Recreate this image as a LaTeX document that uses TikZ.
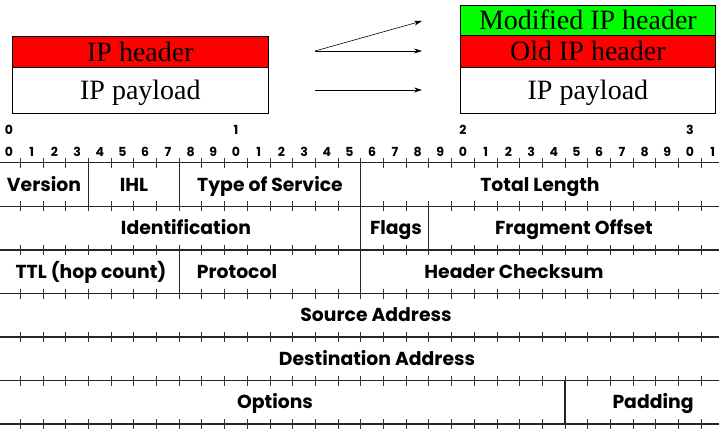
\documentclass[tikz,border=0pt]{standalone}
\usepackage{fontspec}
\setmainfont{Liberation Serif}
\newfontfamily\fieldfont{Poppins}
\usetikzlibrary{arrows.meta}

\begin{document}
\begin{tikzpicture}[x=1pt, y=-1pt,
    pkt/.style={draw, line width=0.8pt, inner sep=0pt, anchor=north west,
      minimum width=256pt, text height=18.5pt, text depth=0pt,
      font=\fontsize{28}{30}\selectfont},
    fld/.style={font=\fieldfont\bfseries\fontsize{18.8}{20}\selectfont,
      inner sep=0pt, text height=13pt, text depth=0pt},
    bitnum/.style={font=\fieldfont\bfseries\fontsize{12.5}{13}\selectfont,
      inner sep=0pt, text height=8.8pt, text depth=0pt},
    rowline/.style={line width=1.1pt, black!85},
    tick/.style={line width=0.7pt, black!80},
    arr/.style={-{Stealth[length=8pt, width=5pt]}, line width=0.6pt}]
  \useasboundingbox (0,0) rectangle (719,430);

  % Original packet
  \node[pkt, fill=red, minimum height=31pt] (hdr) at (12,36) {IP header};
  \node[pkt, minimum height=46pt] (pay) at (12,67) {IP payload};

  % Encapsulated packet
  \node[pkt, fill=green, minimum width=255pt, minimum height=30pt] (newhdr) at (460,5) {Modified IP header};
  \node[pkt, fill=red, minimum width=255pt, minimum height=32pt] (oldhdr) at (460,35) {Old IP header};
  \node[pkt, minimum width=255pt, minimum height=46pt] (newpay) at (460,67) {IP payload};

  % Arrows
  \coordinate (s1) at (315,51);
  \coordinate (s2) at (315,90);
  \coordinate (e1) at (422,21);
  \coordinate (e2) at (422,51);
  \coordinate (e3) at (422,90);
  \draw[arr] (s1) -- (e1);
  \draw[arr] (s1) -- (e2);
  \draw[arr] (s2) -- (e3);

  % Bit numbers
  \foreach \t in {0,1,2,3}
    \node[bitnum] (ten\t) at ({9+227*\t},130) {\t};
  \foreach \k in {0,...,31} {
    \pgfmathtruncatemacro\d{mod(\k,10)}
    \node[bitnum] (bit\k) at ({9+22.7*\k},152) {\d};
  }

  % Rows and ticks
  \foreach \y in {162.7,206.5,250,293.5,337,380.5,424} {
    \draw[rowline] (0,\y) -- (719,\y);
    \foreach \k in {1,...,31}
      \draw[tick] ({-2.5+22.7*\k},{\y-5}) -- ++(0,10);
  }

  % Field borders
  \draw[rowline] (88.3,162.7) -- (88.3,206.5);
  \draw[rowline] (179.1,162.7) -- (179.1,206.5);
  \draw[rowline] (360.7,162.7) -- (360.7,250);
  \draw[rowline] (428.8,206.5) -- (428.8,250);
  \draw[rowline] (179.1,250) -- (179.1,293.5);
  \draw[rowline] (360.7,250) -- (360.7,293.5);
  \draw[rowline] (565,380.5) -- (565,424);

  % Field names
  \node[fld] (ver) at (44,184.6) {Version};
  \node[fld] (ihl) at (134,184.6) {IHL};
  \node[fld] (tos) at (270,184.6) {Type of Service};
  \node[fld] (len) at (540,184.6) {Total Length};
  \node[fld] (ident) at (186,228.3) {Identification};
  \node[fld] (flags) at (396,228.3) {Flags};
  \node[fld] (frag) at (574,228.3) {Fragment Offset};
  \node[fld] (ttl) at (91,271.8) {TTL (hop count)};
  \node[fld] (proto) at (237,271.8) {Protocol};
  \node[fld] (csum) at (514,271.8) {Header Checksum};
  \node[fld] (src) at (376,315.3) {Source Address};
  \node[fld] (dst) at (377,358.8) {Destination Address};
  \node[fld] (opt) at (275,402.3) {Options};
  \node[fld] (pad) at (653,402.3) {Padding};
\end{tikzpicture}
\end{document}
